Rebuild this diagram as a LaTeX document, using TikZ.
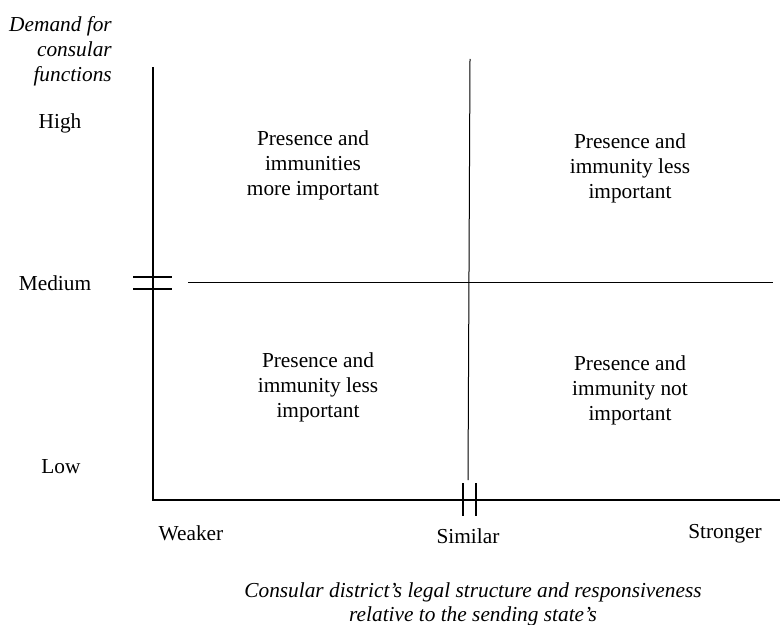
\documentclass[tikz,border=0pt]{standalone}
\usepackage{fontspec}
\setmainfont{Liberation Serif}
\begin{document}
\begin{tikzpicture}[x=0.75pt,y=-0.75pt,
  lbl/.style={inner sep=0pt, font=\fontsize{16}{18.75}\selectfont},
  quad/.style={lbl, align=center},
  axisline/.style={line width=2pt, line cap=rect},
  tickline/.style={line width=1.5pt},
  divider/.style={line width=0.75pt}]
\useasboundingbox (0,0) rectangle (780,624);

% axes
\coordinate (origin) at (153,500);
\coordinate (ytop) at (153,68);
\coordinate (xend) at (780,500);
\draw[axisline] (ytop) -- (origin) -- (xend);

% break marks on the vertical axis at "Medium"
\coordinate (mA1) at (133,277); \coordinate (mA2) at (172,277);
\coordinate (mB1) at (133,289); \coordinate (mB2) at (172,289);
\draw[tickline] (mA1) -- (mA2);
\draw[tickline] (mB1) -- (mB2);

% break marks on the horizontal axis at "Similar"
\coordinate (sA1) at (462.5,483); \coordinate (sA2) at (462.5,516);
\coordinate (sB1) at (475.5,483); \coordinate (sB2) at (475.5,516);
\draw[tickline] (sA1) -- (sA2);
\draw[tickline] (sB1) -- (sB2);

% quadrant dividers
\coordinate (hL) at (188,282.5); \coordinate (hR) at (773,282.5);
\coordinate (vT) at (470,59);    \coordinate (vB) at (468,480);
\draw[divider] (hL) -- (hR);
\draw[divider] (vT) -- (vB);

% vertical axis title and levels
\node[lbl, align=right, anchor=east, font=\fontsize{16}{18.75}\selectfont\itshape]
  (ytitle) at (112,51) {Demand for\\consular\\functions};
\node[lbl] (high) at (60,123) {High};
\node[lbl] (medium) at (55,283) {Medium};
\node[lbl] (low) at (61,467) {Low};

% horizontal axis levels and title
\node[lbl] (weaker) at (191,533) {Weaker};
\node[lbl] (similar) at (468,536) {Similar};
\node[lbl] (stronger) at (725,534) {Stronger};
\node[lbl, align=center, font=\fontsize{16}{18}\selectfont\itshape]
  (xtitle) at (473,604) {Consular district’s legal structure and responsiveness\\relative to the sending state’s};

% quadrant labels
\node[quad] (ul) at (313,165) {Presence and\\immunities\\more important};
\node[quad] (ur) at (630,168) {Presence and\\immunity less\\important};
\node[quad] (ll) at (318,387.5) {Presence and\\immunity less\\important};
\node[quad] (lr) at (630,390) {Presence and\\immunity not\\important};
\end{tikzpicture}
\end{document}
